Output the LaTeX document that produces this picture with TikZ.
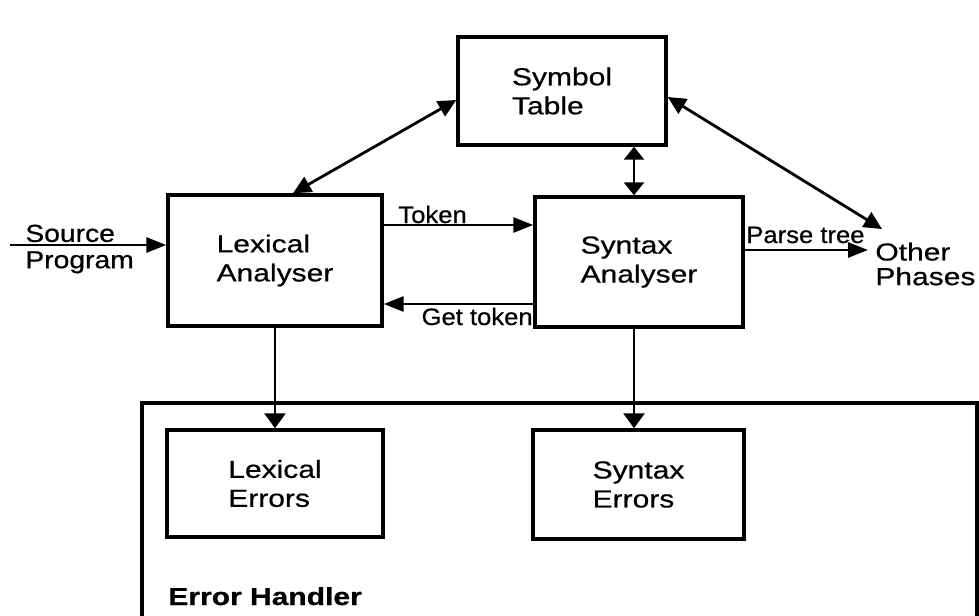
\documentclass[tikz,border=0pt]{standalone}
\usepackage{fontspec}
\setmainfont{Liberation Sans}
\newfontfamily\wfont{Liberation Sans}[FakeStretch=1.22,FakeBold=0.6]
\newfontfamily\efont{Liberation Sans}[FakeStretch=1.08,FakeBold=0.6]
\newfontfamily\srcfont{Liberation Sans}[FakeStretch=1.15,FakeBold=0.6]
\usetikzlibrary{arrows.meta}
\tikzset{
  box/.style={draw, line width=2pt, rectangle, inner sep=0pt, align=left,
    font=\wfont\fontsize{14}{16.5}\selectfont},
  lbl/.style={inner sep=0pt, font=\efont\fontsize{13.5}{16}\selectfont},
  conn/.style={line width=1.6pt},
  harr/.style={conn, -{Triangle[length=0.4cm,width=0.3cm]}},
  varr/.style={conn, -{Triangle[length=0.3cm,width=0.42cm]}},
  vdarr/.style={conn, {Triangle[length=0.26cm,width=0.4cm]}-{Triangle[length=0.26cm,width=0.4cm]}},
  ddarr/.style={conn, {Triangle[length=0.36cm,width=0.34cm]}-{Triangle[length=0.36cm,width=0.34cm]}},
}
\begin{document}
\begin{tikzpicture}[x=0.02cm, y=-0.02cm]
\useasboundingbox (0,0) rectangle (979,615);

% boxes
\node[box, minimum width=4.16cm, minimum height=2.16cm] (sym) at (562,91) {Symbol\\Table};
\node[box, minimum width=4.28cm, minimum height=2.62cm] (lex) at (275,260.5) {Lexical\\Analyser};
\node[box, minimum width=4.16cm, minimum height=2.6cm] (syn) at (639,262) {Syntax\\Analyser};
\node[box, minimum width=4.32cm, minimum height=2.14cm] (lexerr) at (275,483.5) {Lexical\\Errors};
\node[box, minimum width=4.22cm, minimum height=2.18cm] (synerr) at (638.5,484.5) {Syntax\\Errors};

% error handler frame
\draw[line width=2pt] (142,620) -- (142,403) -- (977,403) -- (977,620);
\node[anchor=base west, inner sep=0pt, font=\wfont\bfseries\fontsize{14}{16}\selectfont] (eh) at (168,605) {Error Handler};

% free texts
\node[anchor=west, inner sep=0pt, align=left, font=\srcfont\fontsize{14}{15}\selectfont] (src) at (25,249) {Source\\Program};
\node[anchor=west, inner sep=0pt, align=left, font=\wfont\fontsize{14}{14}\selectfont] (oth) at (875,264) {Other\\Phases};

% coordinates
\coordinate (s0) at (10,245);
\coordinate (tky) at (400,225);
\coordinate (gty) at (450,304);
\coordinate (pty) at (800,250);
\coordinate (ptend) at (868,250);
\coordinate (vx) at (634,170);
\coordinate (othtip) at (882,229);

% connectors
\draw[harr] (s0) -- (s0 -| lex.west);
\draw[harr] (tky -| lex.east) -- (tky -| syn.west);
\draw[harr] (gty -| syn.west) -- (gty -| lex.east);
\draw[harr] (pty -| syn.east) -- (ptend);
\draw[varr] (lex.south) -- (lexerr.north);
\draw[varr] (vx |- syn.south) -- (vx |- synerr.north);
\draw[vdarr] (vx |- sym.south) -- (vx |- syn.north);
\draw[ddarr] ([yshift=-0.18cm]sym.west) -- ([xshift=0.36cm]lex.north);
\draw[ddarr] ([yshift=-0.12cm]sym.east) -- (othtip);

% labels
\node[lbl, anchor=base west] (tok) at (398,223) {Token};
\node[lbl, anchor=base east] (gtok) at (533,325) {Get token};
\node[lbl, anchor=base west] (ptree) at (746,243) {Parse tree};
\end{tikzpicture}
\end{document}
